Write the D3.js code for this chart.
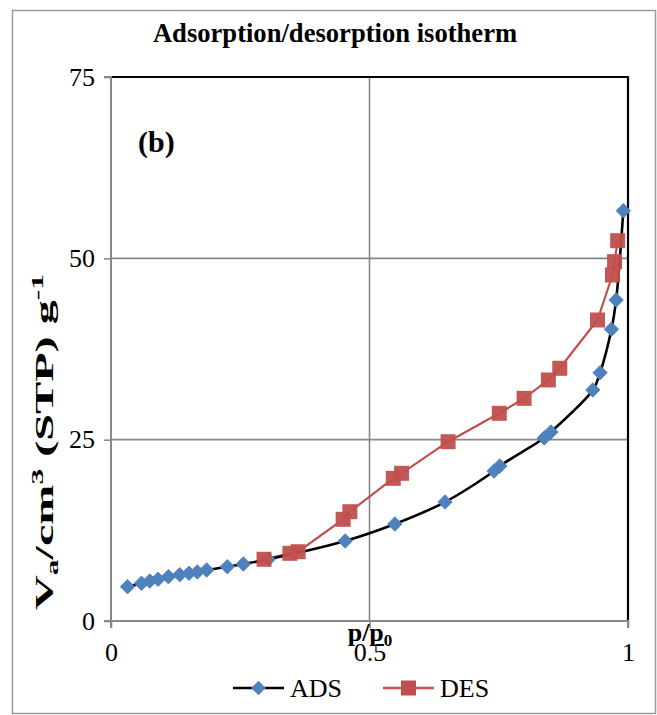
<!DOCTYPE html>
<html>
<head>
<meta charset="utf-8">
<script src="https://cdn.jsdelivr.net/npm/d3@7"></script>
<style>
  html, body { margin: 0; padding: 0; background: #fff; }
  svg { display: block; }
  text { font-family: "Liberation Serif", "Times New Roman", serif; fill: #000; }
</style>
</head>
<body>
<svg id="chart" width="657" height="715"></svg>
<script>
// Relative pressure p/p0 and adsorbed volume (cm3 STP per g)
const adsP = [0.032, 0.059, 0.075, 0.091, 0.111, 0.133, 0.151, 0.167, 0.185, 0.225, 0.256, 0.304,
              0.453, 0.549, 0.646, 0.741, 0.752, 0.838, 0.851, 0.932, 0.946, 0.968, 0.977, 0.991];
const adsV = [4.73, 5.20, 5.51, 5.75, 6.11, 6.38, 6.58, 6.76, 7.03, 7.49, 7.86, 8.51,
              11.03, 13.37, 16.4, 20.68, 21.37, 25.23, 26.06, 31.85, 34.23, 40.22, 44.26, 56.57];
const desP = [0.296, 0.346, 0.362, 0.449, 0.462, 0.546, 0.562, 0.652, 0.751, 0.799, 0.846, 0.868,
              0.941, 0.970, 0.974, 0.980];
const desV = [8.51, 9.33, 9.55, 14.02, 15.07, 19.67, 20.36, 24.72, 28.63, 30.70, 33.23, 34.84,
              41.50, 47.70, 49.54, 52.43];
const xTicks = [0, 0.5, 1];
const yTicks = [0, 25, 50, 75];
const seriesNames = ["ADS", "DES"];

const svg = d3.select("#chart");
const pLeft = 111, pRight = 628, pTop = 77, pBottom = 621;
const x = d3.scaleLinear().domain([0, 1]).range([pLeft, pRight]);
const y = d3.scaleLinear().domain([0, 75]).range([pBottom, pTop]);

const gridCol = "#878787";
const blue = "#4F81BD", red = "#C0504D";
const fs = 26;

// outer chart frame
svg.append("rect").attr("x", 12.5).attr("y", 10.5).attr("width", 643).attr("height", 703)
  .attr("fill", "#fff").attr("stroke", "#9a9a9a").attr("stroke-width", 1.5);

// title
svg.append("text").attr("x", 335).attr("y", 42).attr("text-anchor", "middle")
  .attr("font-size", 26.6).attr("font-weight", "bold").text("Adsorption/desorption isotherm");

// gridlines
svg.append("g").selectAll("line").data(yTicks.filter(d => d > 0 && d < 75)).join("line")
  .attr("x1", pLeft).attr("x2", pRight).attr("y1", d => y(d)).attr("y2", d => y(d))
  .attr("stroke", gridCol).attr("stroke-width", 1.6);
svg.append("g").selectAll("line").data(xTicks.filter(d => d > 0 && d < 1)).join("line")
  .attr("x1", d => x(d)).attr("x2", d => x(d)).attr("y1", pTop).attr("y2", pBottom)
  .attr("stroke", gridCol).attr("stroke-width", 1.6);

// plot-area border (top and right)
svg.append("path").attr("d", `M${pLeft},${pTop}H${pRight}V${pBottom}`)
  .attr("fill", "none").attr("stroke", "#000").attr("stroke-width", 2.2);

// axes
const yAxis = d3.axisLeft(y).tickValues(yTicks).tickSize(7).tickPadding(9).tickFormat(d3.format("d"));
const gy = svg.append("g").attr("transform", `translate(${pLeft},0)`).call(yAxis);
const xAxis = d3.axisBottom(x).tickValues(xTicks).tickSize(7).tickPadding(15).tickFormat(d => d === 0 ? "0" : d === 1 ? "1" : "0.5");
const gx = svg.append("g").attr("transform", `translate(0,${pBottom})`).call(xAxis);
[gx, gy].forEach(g => {
  g.select(".domain").attr("stroke", gridCol).attr("stroke-width", 2);
  g.selectAll(".tick line").attr("stroke", gridCol).attr("stroke-width", 1.6);
  g.selectAll(".tick text").attr("font-size", fs).attr("fill", "#000");
});
gy.select(".domain").attr("d", `M-7,${pTop}H0V${pBottom}H-7`);
gx.select(".domain").attr("d", `M${pLeft},7V0H${pRight}V7`);

// axis titles
svg.append("text").attr("x", 370).attr("y", 641).attr("text-anchor", "middle")
  .attr("font-size", fs).attr("font-weight", "bold")
  .call(t => { t.append("tspan").text("p/p"); t.append("tspan").attr("font-size", 17).attr("dy", 5).text("0"); });

const yl = svg.append("text").attr("transform", "translate(53,442) rotate(-90)")
  .attr("text-anchor", "middle").attr("font-size", fs).attr("font-weight", "bold")
  .attr("textLength", 336).attr("lengthAdjust", "spacingAndGlyphs");
yl.append("tspan").text("V");
yl.append("tspan").attr("font-size", 17).attr("dy", 5).text("a");
yl.append("tspan").attr("dy", -5).text("/cm");
yl.append("tspan").attr("font-size", 17).attr("dy", -10).text("3");
yl.append("tspan").attr("dy", 10).text(" (STP) g");
yl.append("tspan").attr("font-size", 17).attr("dy", -10).text("-1");

// panel label
svg.append("text").attr("x", 138).attr("y", 152).attr("font-size", 30).attr("font-weight", "bold").text("(b)");

// series
const ads = adsP.map((p, i) => [p, adsV[i]]);
const des = desP.map((p, i) => [p, desV[i]]);
const line = d3.line().x(d => x(d[0])).y(d => y(d[1]));

svg.append("path").datum(des).attr("d", line).attr("fill", "none")
  .attr("stroke", red).attr("stroke-width", 2.2);
svg.append("path").datum(ads).attr("d", line.curve(d3.curveCatmullRom.alpha(0.5))).attr("fill", "none")
  .attr("stroke", "#000").attr("stroke-width", 2.6);

const diamond = d3.symbol().type(d3.symbolSquare).size(105);
svg.append("g").selectAll("path").data(ads).join("path")
  .attr("d", diamond)
  .attr("transform", d => `translate(${x(d[0])},${y(d[1])}) rotate(45)`)
  .attr("fill", blue).attr("stroke", blue).attr("stroke-width", 0.8);
svg.append("g").selectAll("rect").data(des).join("rect")
  .attr("x", d => x(d[0]) - 7.5).attr("y", d => y(d[1]) - 7.5)
  .attr("width", 15).attr("height", 15)
  .attr("fill", red).attr("fill-opacity", 0.95);

// legend
const legend = svg.append("g");
const legendItems = [
  { name: seriesNames[0], x0: 233, color: "#000", mark: blue, type: "diamond" },
  { name: seriesNames[1], x0: 383, color: red, mark: red, type: "square" }
];
legendItems.forEach(it => {
  const g = legend.append("g");
  g.append("line").attr("x1", it.x0).attr("x2", it.x0 + 51).attr("y1", 688).attr("y2", 688)
    .attr("stroke", it.color).attr("stroke-width", 2.5);
  if (it.type === "diamond") {
    g.append("path").attr("d", diamond).attr("transform", `translate(${it.x0 + 25.5},688) rotate(45)`)
      .attr("fill", it.mark);
  } else {
    g.append("rect").attr("x", it.x0 + 18).attr("y", 680.5).attr("width", 15).attr("height", 15).attr("fill", it.mark);
  }
  g.append("text").attr("x", it.x0 + 57).attr("y", 697).attr("font-size", fs).text(it.name);
});
</script>
</body>
</html>
